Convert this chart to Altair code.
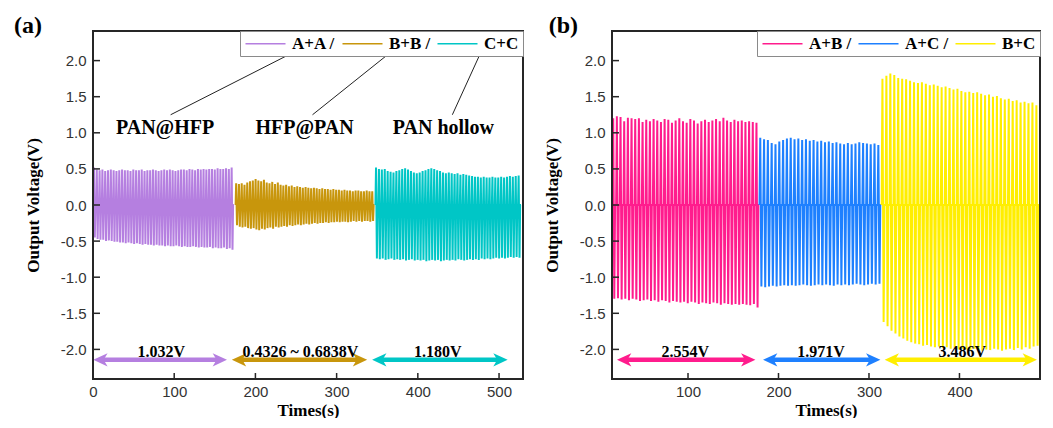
import altair as alt
import pandas as pd

# ---------------- data ----------------
a_names = ["A+A /", "B+B /", "C+C"]
a_colors = ["#B57FE0", "#C8960C", "#00C6C6"]
a_starts = [0.5, 175.6, 347.8]
a_ends = [173.5, 346.6, 527.0]

aa_peaks = [0.52,0.49,0.48,0.49,0.47,0.48,0.49,0.48,0.47,0.48,0.49,0.48,0.48,0.47,0.49,0.48,0.48,0.49,0.47,0.48,
            0.48,0.49,0.48,0.47,0.48,0.49,0.48,0.49,0.48,0.47,0.48,0.49,0.49,0.48,0.50,0.49,0.48,0.50,0.49,0.50,
            0.49,0.50,0.50,0.49,0.51,0.50,0.50,0.51,0.50,0.52]
aa_troughs = [-0.45,-0.47,-0.48,-0.48,-0.50,-0.49,-0.50,-0.51,-0.51,-0.52,-0.52,-0.53,-0.52,-0.53,-0.54,-0.53,-0.54,-0.55,-0.54,-0.55,
              -0.55,-0.56,-0.55,-0.56,-0.56,-0.57,-0.56,-0.57,-0.57,-0.56,-0.57,-0.58,-0.57,-0.58,-0.58,-0.57,-0.58,-0.59,-0.58,-0.59,
              -0.59,-0.58,-0.60,-0.59,-0.60,-0.60,-0.59,-0.61,-0.60,-0.62]
bb_peaks = [0.30,0.29,0.30,0.28,0.31,0.33,0.34,0.36,0.34,0.33,0.35,0.31,0.30,0.32,0.29,0.31,0.28,0.27,0.28,0.26,
            0.27,0.25,0.26,0.25,0.24,0.25,0.24,0.23,0.24,0.23,0.22,0.23,0.22,0.22,0.21,0.22,0.21,0.21,0.20,0.21,
            0.20,0.20,0.19,0.20,0.20,0.19,0.19,0.20,0.19,0.19]
bb_troughs = [-0.28,-0.30,-0.31,-0.30,-0.32,-0.33,-0.32,-0.34,-0.35,-0.33,-0.34,-0.32,-0.31,-0.33,-0.30,-0.31,-0.30,-0.29,-0.30,-0.28,
              -0.29,-0.28,-0.27,-0.28,-0.27,-0.26,-0.27,-0.26,-0.25,-0.26,-0.25,-0.25,-0.24,-0.25,-0.24,-0.24,-0.23,-0.24,-0.23,-0.23,
              -0.24,-0.23,-0.22,-0.23,-0.22,-0.23,-0.22,-0.22,-0.23,-0.22]
cc_peaks = [0.52,0.50,0.49,0.50,0.47,0.46,0.45,0.47,0.48,0.50,0.51,0.49,0.47,0.45,0.44,0.45,0.47,0.48,0.50,0.51,
            0.50,0.48,0.47,0.45,0.44,0.45,0.44,0.43,0.44,0.42,0.43,0.42,0.41,0.40,0.39,0.39,0.38,0.39,0.38,0.38,
            0.39,0.38,0.38,0.39,0.38,0.39,0.40,0.39,0.40,0.41]
cc_troughs = [-0.74,-0.75,-0.74,-0.76,-0.75,-0.74,-0.76,-0.75,-0.76,-0.75,-0.77,-0.76,-0.75,-0.77,-0.76,-0.77,-0.76,-0.78,-0.77,-0.76,
              -0.77,-0.76,-0.78,-0.77,-0.76,-0.77,-0.76,-0.77,-0.75,-0.76,-0.77,-0.76,-0.75,-0.76,-0.75,-0.76,-0.74,-0.75,-0.74,-0.75,
              -0.74,-0.73,-0.74,-0.73,-0.74,-0.73,-0.72,-0.73,-0.72,-0.73]

b_names = ["A+B /", "A+C /", "B+C"]
b_colors = ["#FF1C8D", "#1E80FF", "#FFEE00"]
b_starts = [16.5, 179.0, 314.0]
b_ends = [178.9, 313.7, 488.5]

ab_peaks = [1.20,1.23,1.22,1.16,1.21,1.20,1.19,1.20,1.15,1.18,1.16,1.19,1.17,1.15,1.19,1.18,1.14,1.17,1.20,1.16,
            1.14,1.19,1.17,1.13,1.16,1.18,1.15,1.17,1.19,1.16,1.21,1.17,1.15,1.18,1.16,1.17,1.15,1.16,1.15,1.14]
ab_troughs = [-1.30,-1.29,-1.31,-1.30,-1.32,-1.30,-1.31,-1.33,-1.32,-1.31,-1.33,-1.32,-1.34,-1.32,-1.33,-1.35,-1.33,-1.34,-1.35,-1.34,
              -1.36,-1.34,-1.35,-1.37,-1.35,-1.36,-1.37,-1.35,-1.36,-1.38,-1.36,-1.37,-1.38,-1.37,-1.38,-1.37,-1.38,-1.39,-1.37,-1.42]
ac_peaks = [0.93,0.91,0.90,0.86,0.84,0.88,0.90,0.92,0.93,0.91,0.92,0.90,0.91,0.89,0.90,0.88,0.89,0.87,0.88,0.86,
            0.87,0.85,0.84,0.86,0.84,0.85,0.87,0.86,0.85,0.84,0.85,0.83]
ac_troughs = [-1.13,-1.14,-1.13,-1.12,-1.13,-1.12,-1.11,-1.12,-1.11,-1.12,-1.11,-1.10,-1.11,-1.12,-1.11,-1.10,-1.11,-1.10,-1.11,-1.12,
              -1.10,-1.11,-1.10,-1.11,-1.10,-1.09,-1.10,-1.11,-1.10,-1.09,-1.10,-1.09]
bc_peaks = [1.75,1.79,1.82,1.80,1.76,1.75,1.74,1.72,1.70,1.69,1.70,1.68,1.66,1.67,1.65,1.63,1.64,1.62,1.60,1.61,
            1.58,1.56,1.57,1.55,1.56,1.54,1.52,1.53,1.50,1.51,1.48,1.46,1.47,1.44,1.45,1.42,1.43,1.41,1.42,1.38]
bc_troughs = [-1.62,-1.68,-1.74,-1.78,-1.82,-1.85,-1.88,-1.90,-1.92,-1.93,-1.95,-1.94,-1.96,-1.97,-1.96,-1.98,-1.97,-1.99,-1.98,-2.00,
              -1.99,-2.00,-2.01,-1.99,-2.00,-2.02,-2.00,-2.01,-1.99,-2.00,-2.02,-2.00,-1.99,-2.01,-1.98,-2.00,-1.97,-1.99,-1.96,-1.95]

# arrows (start, end) and their labels
a_arrow_from = [0.3, 171.0, 343.7]
a_arrow_to = [165.0, 337.6, 510.6]
a_arrow_text = ["1.032V", "0.4326 ~ 0.6838V", "1.180V"]
a_arrow_text_x = [84.0, 255.5, 424.7]
b_arrow_from = [21.5, 182.9, 317.3]
b_arrow_to = [174.5, 312.6, 485.6]
b_arrow_text = ["2.554V", "1.971V", "3.486V"]
b_arrow_text_x = [97.0, 247.0, 403.0]
arrow_y = -2.145
arrow_text_y = -2.1

# annotations in panel (a)
ann_text = ["PAN@HFP", "HFP@PAN", "PAN hollow"]
ann_x = [88.8, 260.5, 431.5]
ann_y = [1.07, 1.07, 1.07]
ann_line_x1 = [95.6, 270.3, 442.5]
ann_line_y1 = [1.25, 1.25, 1.25]
ann_line_x2 = [240.8, 362.6, 477.0]
ann_line_y2 = [2.08, 2.08, 2.10]

# panel letters
a_letter_x = -97.3
b_letter_x = -54.0
letter_y = 2.384

a_xdomain = [0, 529.5]
b_xdomain = [16, 489]
ydomain = [-2.41, 2.41]
a_xticks = [0, 100, 200, 300, 400, 500]
b_xticks = [100, 200, 300, 400]
yticks = [-2.0, -1.5, -1.0, -0.5, 0.0, 0.5, 1.0, 1.5, 2.0]

H = 348
SERIF = "Liberation Serif"
SANS = "Liberation Sans"
FRAME_DARK = "#262626"
FRAME_FALLBACK = "#808080"


def wave(names, starts, ends, peaks_list, troughs_list):
    rows = []
    for name, s, e, pk, tr in zip(names, starts, ends, peaks_list, troughs_list):
        n = len(pk)
        P = (e - s) / n
        k = 0
        for i in range(n):
            t0 = s + i * P
            for frac, v in ((0.0, 0.0), (0.2, pk[i]), (0.5, tr[i]), (0.72, 0.0)):
                rows.append({"t": t0 + frac * P, "v": v, "s": name, "k": k})
                k += 1
        rows.append({"t": e, "v": 0.0, "s": name, "k": k})
    return pd.DataFrame(rows)


def panel(W, letter, letter_x, names, colors, starts, ends, peaks_list, troughs_list,
          xdomain, xticks, afrom, ato, atext, atext_x, annotations=None):
    xs = alt.Scale(domain=xdomain, nice=False, zero=False)
    ys = alt.Scale(domain=ydomain, nice=False, zero=False)
    px_per_x = W / (xdomain[1] - xdomain[0])
    px_per_y = H / (ydomain[1] - ydomain[0])
    dx1 = 1.0 / px_per_x   # one pixel in data units
    dy1 = 1.0 / px_per_y

    df = wave(names, starts, ends, peaks_list, troughs_list)
    xaxis = alt.Axis(values=xticks, title="Times(s)", ticks=False, domain=False, grid=False,
                     labelPadding=5, titlePadding=3, format="d", labelFlush=False)
    yaxis = alt.Axis(values=yticks, title="Output Voltage(V)", ticks=False, domain=False, grid=False,
                     labelPadding=7, titlePadding=18, labelFlush=False,
                     labelExpr="replace(format(datum.value, '.1f'), '\u2212', '-')")
    sig = alt.Chart(df).mark_line(strokeWidth=2.0).encode(
        x=alt.X("t:Q", scale=xs, axis=xaxis),
        y=alt.Y("v:Q", scale=ys, axis=yaxis),
        color=alt.Color("s:N", scale=alt.Scale(domain=names, range=colors),
                        sort=names,
                        legend=alt.Legend(title=None, orient="top-right", direction="horizontal",
                                          columns=3, offset=0, symbolType="M-3,0L3,0", symbolSize=178,
                                          symbolOffset=13, labelOffset=18,
                                          symbolStrokeWidth=1.5, labelFont=SERIF, labelFontWeight="bold",
                                          labelFontSize=17, labelColor="black", padding=4,
                                          strokeColor="#8a8a8a", fillColor="white", columnPadding=3)),
        detail="s:N",
        order="k:Q",
    )

    x0, x1 = float(xdomain[0]), float(xdomain[1])
    y0, y1 = float(ydomain[0]), float(ydomain[1])

    # fallback frame (stroked rectangle)
    fdf = pd.DataFrame({"fx": [x0], "fx2": [x1], "fy": [y0], "fy2": [y1]})
    frame_fb = alt.Chart(fdf).mark_rect(fill="transparent", stroke=FRAME_FALLBACK, strokeWidth=2).encode(
        x=alt.X("fx:Q", scale=xs), x2="fx2:Q", y=alt.Y("fy:Q", scale=ys), y2="fy2:Q")

    # frame as four thin filled strips along the data domain edges
    sdf = pd.DataFrame({
        "sx": [x0 - dx1, x1 - dx1, x0 - dx1, x0 - dx1],
        "sx2": [x0 + dx1, x1 + dx1, x1 + dx1, x1 + dx1],
        "sy": [y0 - dy1, y0 - dy1, y0 - dy1, y1 - dy1],
        "sy2": [y1 + dy1, y1 + dy1, y0 + dy1, y1 + dy1],
    })
    strips = alt.Chart(sdf).mark_rect(fill=FRAME_DARK, strokeWidth=0, clip=False).encode(
        x=alt.X("sx:Q", scale=xs), x2="sx2:Q", y=alt.Y("sy:Q", scale=ys), y2="sy2:Q")

    # inward ticks as thin filled rectangles
    xt = pd.DataFrame({"tx": [float(v) - 0.75 * dx1 for v in xticks],
                       "tx2": [float(v) + 0.75 * dx1 for v in xticks],
                       "ty": [y0] * len(xticks),
                       "ty2": [y0 + 6 * dy1] * len(xticks)})
    yt = pd.DataFrame({"tx": [x0] * len(yticks),
                       "tx2": [x0 + 7 * dx1] * len(yticks),
                       "ty": [float(v) - 0.75 * dy1 for v in yticks],
                       "ty2": [float(v) + 0.75 * dy1 for v in yticks]})
    xtick = alt.Chart(xt).mark_rect(fill=FRAME_DARK, strokeWidth=0).encode(
        x=alt.X("tx:Q", scale=xs), x2="tx2:Q", y=alt.Y("ty:Q", scale=ys), y2="ty2:Q")
    ytick = alt.Chart(yt).mark_rect(fill=FRAME_DARK, strokeWidth=0).encode(
        x=alt.X("tx:Q", scale=xs), x2="tx2:Q", y=alt.Y("ty:Q", scale=ys), y2="ty2:Q")

    # arrows
    gap = 8 / px_per_x
    adf = pd.DataFrame({"x": [f + gap for f in afrom], "x2": [t - gap for t in ato],
                        "y": arrow_y, "c": colors})
    shaft = alt.Chart(adf).mark_rule(strokeWidth=4.5).encode(
        x=alt.X("x:Q", scale=xs), x2="x2:Q", y=alt.Y("y:Q", scale=ys),
        color=alt.Color("c:N", scale=None))
    ldf = pd.DataFrame({"x": afrom, "y": arrow_y, "c": colors})
    rdf = pd.DataFrame({"x": ato, "y": arrow_y, "c": colors})
    lhead = alt.Chart(ldf).mark_point(shape="M0,0L2.2,-1L1.6,0L2.2,1Z", size=170, filled=True,
                                      opacity=1, strokeWidth=0).encode(
        x=alt.X("x:Q", scale=xs), y=alt.Y("y:Q", scale=ys), color=alt.Color("c:N", scale=None))
    rhead = alt.Chart(rdf).mark_point(shape="M0,0L-2.2,-1L-1.6,0L-2.2,1Z", size=170, filled=True,
                                      opacity=1, strokeWidth=0).encode(
        x=alt.X("x:Q", scale=xs), y=alt.Y("y:Q", scale=ys), color=alt.Color("c:N", scale=None))
    tdf = pd.DataFrame({"x": atext_x, "y": arrow_text_y, "txt": atext})
    atxt = alt.Chart(tdf).mark_text(font=SERIF, fontWeight="bold", fontSize=16, color="black",
                                    baseline="alphabetic", align="center").encode(
        x=alt.X("x:Q", scale=xs), y=alt.Y("y:Q", scale=ys), text="txt:N")

    ldf3 = pd.DataFrame({"x": [letter_x], "y": [letter_y], "txt": [letter]})
    ltxt = alt.Chart(ldf3).mark_text(font=SERIF, fontWeight="bold", fontSize=24, color="black",
                                     baseline="alphabetic", align="left").encode(
        x=alt.X("x:Q", scale=xs), y=alt.Y("y:Q", scale=ys), text="txt:N")

    layers = [sig, shaft, lhead, rhead, atxt, ltxt]
    if annotations is not None:
        ndf = pd.DataFrame({"x": ann_x, "y": ann_y, "txt": ann_text})
        ntxt = alt.Chart(ndf).mark_text(font=SERIF, fontWeight="bold", fontSize=20, color="black",
                                        baseline="middle", align="center").encode(
            x=alt.X("x:Q", scale=xs), y=alt.Y("y:Q", scale=ys), text="txt:N")
        ldf2 = pd.DataFrame({"x": ann_line_x1, "y": ann_line_y1, "x2": ann_line_x2, "y2": ann_line_y2})
        nline = alt.Chart(ldf2).mark_rule(color="#222", strokeWidth=1).encode(
            x=alt.X("x:Q", scale=xs), y=alt.Y("y:Q", scale=ys), x2="x2:Q", y2="y2:Q")
        layers += [nline, ntxt]
    layers += [frame_fb, xtick, ytick, strips]

    return alt.layer(*layers).properties(width=W, height=H)


pa = panel(430, "(a)", a_letter_x, a_names, a_colors, a_starts, a_ends,
           [aa_peaks, bb_peaks, cc_peaks], [aa_troughs, bb_troughs, cc_troughs],
           a_xdomain, a_xticks, a_arrow_from, a_arrow_to, a_arrow_text, a_arrow_text_x, annotations=True)
pb = panel(428, "(b)", b_letter_x, b_names, b_colors, b_starts, b_ends,
           [ab_peaks, ac_peaks, bc_peaks], [ab_troughs, ac_troughs, bc_troughs],
           b_xdomain, b_xticks, b_arrow_from, b_arrow_to, b_arrow_text, b_arrow_text_x)

chart = alt.hconcat(pa, pb, spacing=18).resolve_scale(color="independent").resolve_legend(
    color="independent").properties(
    padding={"left": 5, "top": 5, "right": 0, "bottom": 0}, background="white"
).configure_view(strokeWidth=0).configure_axis(
    labelFont=SANS, labelFontSize=15, labelColor="#333333",
    titleFont=SERIF, titleFontSize=17, titleFontWeight="bold", titleColor="black"
)

chart.save("out.html", embed_options={"renderer": "svg", "actions": False})
